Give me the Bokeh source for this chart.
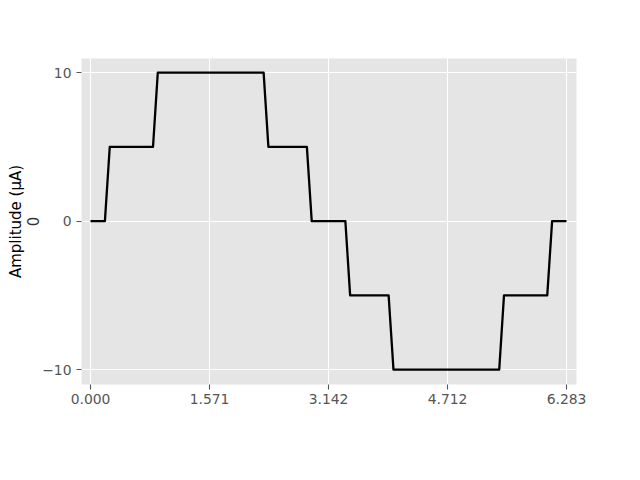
from bokeh.plotting import figure
from bokeh.models import Range1d, FixedTicker, LinearAxis
from bokeh.embed import file_html
from bokeh.resources import INLINE

# Corner points of the quantised waveform
x_pts = [0.000, 0.190, 0.254, 0.825, 0.888, 2.285, 2.348, 2.856, 2.920,
         3.364, 3.427, 3.935, 3.999, 5.395, 5.458, 6.029, 6.093, 6.283]
y_pts = [0, 0, 5, 5, 10, 10, 5, 5, 0,
         0, -5, -5, -10, -10, -5, -5, 0, 0]

x_tick_values = [0.0, 1.5708, 3.1416, 4.7124, 6.2832]
x_tick_labels = ["0.000", "1.571", "3.142", "4.712", "6.283"]
y_tick_values = [-10, 0, 10]
y_tick_labels = ["\u221210", "0", "10"]

y_label_text = "Amplitude (\u03bcA)"
extra_label_text = "0"

W, H = 624, 464
p = figure(width=W, height=H, output_backend="svg", toolbar_location=None,
           x_range=Range1d(-0.119, 6.415), y_range=Range1d(-11.0, 10.95),
           min_border_left=81, min_border_right=W - 576,
           min_border_top=58, min_border_bottom=H - 384)

p.background_fill_color = "#E5E5E5"
p.border_fill_color = "white"
p.outline_line_color = None

p.line(x_pts, y_pts, line_color="black", line_width=2.3, line_join="round")

p.xaxis.ticker = FixedTicker(ticks=x_tick_values)
p.yaxis.ticker = FixedTicker(ticks=y_tick_values)
p.xaxis.major_label_overrides = {v: l for v, l in zip(x_tick_values, x_tick_labels)}
p.yaxis.major_label_overrides = {v: l for v, l in zip(y_tick_values, y_tick_labels)}

for ax in (p.xaxis, p.yaxis):
    ax.axis_line_color = None
    ax.minor_tick_line_color = None
    ax.major_tick_line_color = "#555555"
    ax.major_tick_line_width = 1.1
    ax.major_tick_out = 5
    ax.major_tick_in = 0
    ax.major_label_text_color = "#555555"
    ax.major_label_text_font = "DejaVu Sans"
    ax.major_label_text_font_size = "13.9px"
p.xaxis.major_label_standoff = 4
p.yaxis.major_label_standoff = 5

# the inner left axis carries the small "0" label
p.yaxis.axis_label = extra_label_text
p.yaxis.axis_label_standoff = 0
p.yaxis.axis_label_text_font = "DejaVu Sans"
p.yaxis.axis_label_text_font_size = "15px"
p.yaxis.axis_label_text_font_style = "normal"
p.yaxis.axis_label_text_color = "#333333"

# outer left axis carries the amplitude label only
outer = LinearAxis(ticker=FixedTicker(ticks=[]), axis_line_color=None,
                   major_tick_line_color=None, minor_tick_line_color=None,
                   major_label_text_font_size="0px", major_label_standoff=0,
                   axis_label=y_label_text, axis_label_standoff=0,
                   axis_label_text_font="DejaVu Sans",
                   axis_label_text_font_size="15px",
                   axis_label_text_font_style="normal",
                   axis_label_text_color="black")
p.add_layout(outer, "left")

p.grid.grid_line_color = "white"
p.grid.grid_line_width = 1.1

open("out.html", "w").write(file_html(p, INLINE))
